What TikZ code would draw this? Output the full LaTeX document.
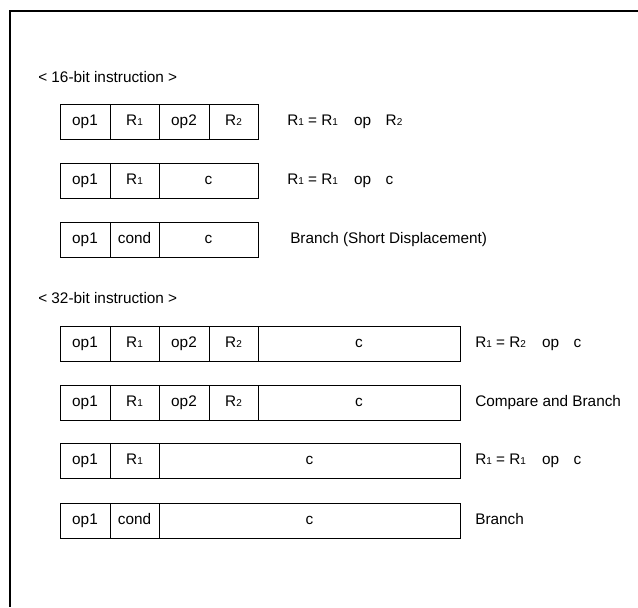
\documentclass[tikz,border=0pt]{standalone}
\usepackage{fontspec}
\setmainfont{Liberation Sans}
\newcommand\sbx[1]{{\fontsize{7.5pt}{8pt}\selectfont #1}}
\newcommand\cellnode[5]{\node[cell, minimum width={(#3-#2)*0.75pt}, anchor=north west] (#1) at (#2,#4) {#5};}
\begin{document}
\begin{tikzpicture}[x=0.75pt,y=-0.75pt,
  cell/.style={draw, line width=0.75pt, rectangle, inner sep=0pt, outer sep=0pt, minimum height=26.25pt, font=\fontsize{11.5pt}{13pt}\selectfont, text height=8.3pt, text depth=2.2pt},
  lbl/.style={anchor=west, inner sep=0pt, font=\fontsize{11.5pt}{13pt}\selectfont, text height=8.3pt, text depth=2.2pt},
  frame/.style={line width=1.5pt}]
\useasboundingbox (0,0) rectangle (638,607);
\coordinate (ftop) at (9,11);
\coordinate (fright) at (638,11);
\coordinate (fbot) at (10,607);
\draw[frame] (fright) -- (10,11) -- (fbot);

\node[lbl] (h16) at (38,78) {< 16-bit instruction >};
% row 1
\cellnode{a1}{60}{110}{104}{op1}
\cellnode{a2}{110}{159}{104}{R\sbx{1}}
\cellnode{a3}{159}{209}{104}{op2}
\cellnode{a4}{209}{258}{104}{R\sbx{2}}
\node[lbl] (la) at (287,121.5) {R\sbx{1} = R\sbx{1}\hspace{12pt}op\hspace{11pt}R\sbx{2}};
% row 2
\cellnode{b1}{60}{110}{163}{op1}
\cellnode{b2}{110}{159}{163}{R\sbx{1}}
\cellnode{b3}{159}{258}{163}{c}
\node[lbl] (lb) at (287,180.5) {R\sbx{1} = R\sbx{1}\hspace{12pt}op\hspace{11pt}c};
% row 3
\cellnode{c1}{60}{110}{222}{op1}
\cellnode{c2}{110}{159}{222}{cond}
\cellnode{c3}{159}{258}{222}{c}
\node[lbl] (lc) at (290,239.5) {Branch (Short Displacement)};

\node[lbl] (h32) at (38,299) {< 32-bit instruction >};
% row 4
\cellnode{d1}{60}{110}{326}{op1}
\cellnode{d2}{110}{159}{326}{R\sbx{1}}
\cellnode{d3}{159}{209}{326}{op2}
\cellnode{d4}{209}{258}{326}{R\sbx{2}}
\cellnode{d5}{258}{460}{326}{c}
\node[lbl] (ld) at (475,343.5) {R\sbx{1} = R\sbx{2}\hspace{12pt}op\hspace{11pt}c};
% row 5
\cellnode{e1}{60}{110}{385}{op1}
\cellnode{e2}{110}{159}{385}{R\sbx{1}}
\cellnode{e3}{159}{209}{385}{op2}
\cellnode{e4}{209}{258}{385}{R\sbx{2}}
\cellnode{e5}{258}{460}{385}{c}
\node[lbl] (le) at (475,402.5) {Compare and Branch};
% row 6
\cellnode{f1}{60}{110}{443}{op1}
\cellnode{f2}{110}{159}{443}{R\sbx{1}}
\cellnode{f3}{159}{460}{443}{c}
\node[lbl] (lf) at (475,460.5) {R\sbx{1} = R\sbx{1}\hspace{12pt}op\hspace{11pt}c};
% row 7
\cellnode{g1}{60}{110}{503}{op1}
\cellnode{g2}{110}{159}{503}{cond}
\cellnode{g3}{159}{460}{503}{c}
\node[lbl] (lg) at (475,520.5) {Branch};
\end{tikzpicture}
\end{document}
